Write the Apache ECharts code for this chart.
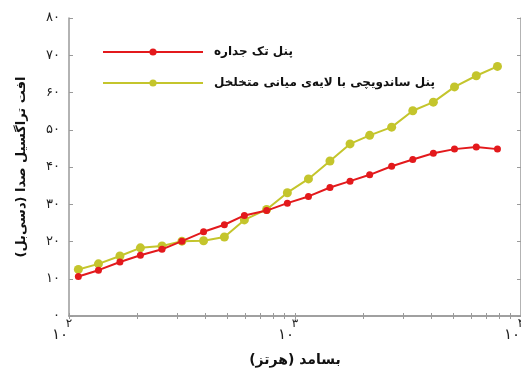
<!DOCTYPE html>
<html>
<head>
<meta charset="utf-8">
<script src="https://cdn.jsdelivr.net/npm/echarts@6/dist/echarts.min.js"></script>
<style>
  html, body { margin: 0; padding: 0; background: #fff; }
  #chart { width: 521px; height: 369px; }
</style>
</head>
<body>
<div id="chart"></div>
<script>
// frequency (Hz) of each measured point
const freqs = [110, 135, 168, 207, 258, 316, 394, 487, 597, 749, 925, 1147, 1428, 1752, 2140, 2677, 3320, 4094, 5078, 6340, 7867];
// transmission loss (dB)
const singlePanel = [10.6, 12.3, 14.5, 16.3, 17.9, 20.1, 22.6, 24.5, 27.0, 28.3, 30.3, 32.1, 34.5, 36.2, 37.9, 40.2, 42.0, 43.7, 44.8, 45.4, 44.8];
const sandwichPanel = [12.5, 14.0, 16.1, 18.3, 18.8, 20.1, 20.2, 21.2, 25.8, 28.6, 33.1, 36.8, 41.6, 46.2, 48.5, 50.7, 55.1, 57.4, 61.5, 64.5, 67.0];

const seriesNames = ['پنل تک جداره', 'پنل ساندویچی با لایه‌ی میانی متخلخل'];
const xTitle = 'بسامد (هرتز)\u200F';
const yTitle = 'افت تراگسیل صدا (دسی‌بل)\u200F';

const xLabelValues = [100, 1000, 10000];
const xTickValues = [100, 200, 300, 400, 500, 600, 700, 800, 900, 1000,
  2000, 3000, 4000, 5000, 6000, 7000, 8000, 9000, 10000];

const faDigits = '۰۱۲۳۴۵۶۷۸۹';
const fa = (s) => String(s).replace(/\d/g, d => faDigits[d]);

const axisGray = '#9a9a9a';
const red = '#e3191c';
const olive = '#c4c52c';
const font = '"DejaVu Sans", sans-serif';

const chart = echarts.init(document.getElementById('chart'), null, { renderer: 'canvas' });

const baseX = {
  type: 'log',
  logBase: 10,
  min: 100,
  max: 10000,
  splitLine: { show: false },
  axisLine: { lineStyle: { color: axisGray, width: 1.5 } },
  axisTick: { inside: true, length: 3, customValues: xTickValues, lineStyle: { color: axisGray } },
};

const baseY = {
  type: 'value',
  min: 0,
  max: 80,
  interval: 10,
  splitLine: { show: false },
  axisLine: { show: true, lineStyle: { color: axisGray, width: 1.5 } },
  axisTick: { inside: true, length: 4, lineStyle: { color: axisGray } },
};

chart.setOption({
  animation: false,
  // the plot box runs right up to the edge of the picture, like the source figure
  grid: { left: 69, top: 18, width: 452, bottom: 53, containLabel: false, outerBoundsMode: 'none' },
  legend: {
    data: seriesNames,
    orient: 'vertical',
    left: 97,
    top: 41,
    itemWidth: 100,
    itemHeight: 9,
    itemGap: 19,
    textStyle: { fontFamily: font, fontWeight: 'bold', fontSize: 12, color: '#111', padding: [0, 0, 0, 6] },
  },
  xAxis: [
    {
      ...baseX,
      position: 'bottom',
      name: xTitle,
      nameLocation: 'middle',
      nameGap: 37,
      nameTextStyle: { fontFamily: font, fontWeight: 'bold', fontSize: 14, color: '#111' },
      axisLabel: {
        customValues: xLabelValues,
        align: 'right',
        margin: 12,
        padding: [0, 1, 0, 0],
        fontFamily: font,
        fontSize: 15,
        color: '#222',
        formatter: () => '۱۰',
      },
    },
    {
      ...baseX,
      position: 'top',
      axisLabel: { show: false },
    },
    {
      // exponents drawn above the "10" of each label
      ...baseX,
      position: 'bottom',
      axisLine: { show: false },
      axisTick: { show: false },
      axisLabel: {
        customValues: xLabelValues,
        align: 'center',
        margin: 2,
        fontFamily: font,
        fontSize: 12,
        color: '#222',
        formatter: (v) => fa(Math.round(Math.log10(v))),
      },
    },
  ],
  yAxis: [
    {
      ...baseY,
      position: 'left',
      name: yTitle,
      nameLocation: 'middle',
      nameGap: 41,
      nameRotate: 90,
      nameTextStyle: { fontFamily: font, fontWeight: 'bold', fontSize: 13, color: '#111' },
      axisLabel: { margin: 9, fontFamily: font, fontSize: 13, color: '#222', formatter: (v) => fa(v) },
    },
    {
      ...baseY,
      position: 'right',
      axisLabel: { show: false },
    },
  ],
  series: [
    {
      name: seriesNames[0],
      type: 'line',
      data: freqs.map((f, i) => [f, singlePanel[i]]),
      symbol: 'circle',
      symbolSize: 7,
      color: red,
      lineStyle: { color: red, width: 2 },
      itemStyle: { color: red },
      z: 3,
    },
    {
      name: seriesNames[1],
      type: 'line',
      data: freqs.map((f, i) => [f, sandwichPanel[i]]),
      symbol: 'circle',
      symbolSize: 9,
      color: olive,
      lineStyle: { color: olive, width: 2 },
      itemStyle: { color: olive },
      z: 2,
    },
  ],
});
</script>
</body>
</html>
